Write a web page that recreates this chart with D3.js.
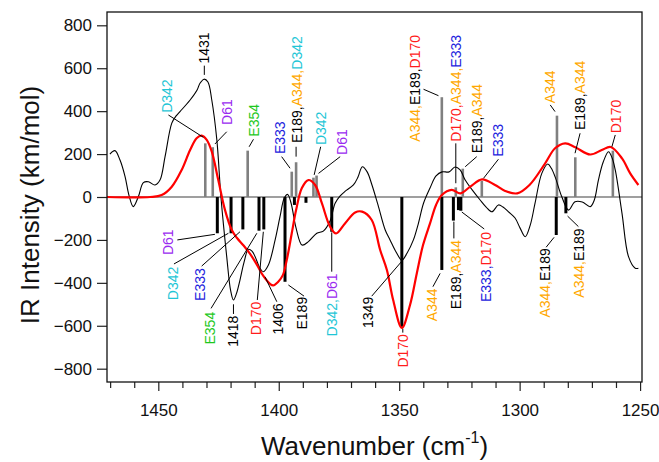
<!DOCTYPE html>
<html><head><meta charset="utf-8">
<script src="https://cdn.jsdelivr.net/npm/d3@7"></script>
<style>body{margin:0;background:#fff} svg text{font-family:"Liberation Sans",Arial,sans-serif}</style>
</head><body><svg id="c" width="659" height="462"></svg>
<script>
// ---------- data ----------
const yTickValues = [-800,-600,-400,-200,0,200,400,600,800];
const xMajorTicks = [1450,1400,1350,1300,1250];
const xMinorTicks = [1470,1460,1440,1430,1420,1410,1390,1380,1370,1360,1340,1330,1320,1310,1290,1280,1270,1260];

// experimental (black) spectrum
const expWavenumber = [1470.1,1468.0,1465.9,1463.8,1462.2,1460.4,1458.3,1456.2,1454.1,1451.4,1449.3,1447.2,1444.4,1442.6,1441.0,1436.8,1433.9,1432.7,1431.0,1429.4,1427.8,1425.7,1424.0,1421.6,1420.0,1418.8,1417.5,1416.1,1414.4,1412.6,1411.1,1409.8,1407.8,1406.4,1404.3,1401.5,1399.5,1397.7,1396.3,1394.9,1392.8,1390.3,1387.7,1384.2,1381.5,1378.7,1376.6,1374.5,1372.5,1369.0,1367.1,1365.3,1363.3,1361.3,1358.8,1355.8,1353.8,1351.3,1348.9,1346.7,1344.1,1342.1,1339.9,1337.2,1334.7,1332.2,1329.3,1326.8,1324.7,1322.6,1319.7,1316.4,1313.9,1311.5,1308.8,1306.9,1304.6,1301.9,1299.8,1297.7,1295.6,1293.6,1290.8,1288.3,1286.9,1285.3,1282.5,1279.7,1277.0,1274.0,1270.7,1269.0,1267.3,1265.3,1263.1,1261.6,1260.3,1257.5,1254.8,1252.0,1250.7];
const expIntensity = [200,216,172,95,9,-45,1,67,71,56,79,188,344,378,398,452,499,530,549,536,452,266,0,-278,-434,-480,-448,-387,-303,-244,-252,-278,-332,-348,-317,-200,-93,-5,12,-28,-145,-224,-208,-169,-159,-112,-29,5,26,56,93,141,117,56,-37,-154,-200,-256,-294,-261,-200,-126,-29,42,98,117,117,140,126,79,33,-14,-47,-69,-37,-47,-69,-98,-145,-185,-131,-29,110,154,135,95,1,-61,-22,-23,-45,-14,79,163,211,182,126,-76,-278,-332,-332];

// computed (red) broadened spectrum
const calcWavenumber = [1471.3,1453.4,1448.6,1444.4,1440.3,1436.8,1434.1,1432.0,1429.9,1427.8,1425.1,1422.3,1419.5,1417.4,1414.6,1411.9,1409.1,1406.4,1403.6,1402.3,1400.3,1398.3,1396.5,1394.6,1392.8,1390.4,1387.7,1384.9,1382.1,1378.7,1376.2,1372.5,1368.3,1365.4,1361.4,1357.9,1355.1,1352.5,1348.9,1345.5,1342.7,1340.1,1337.2,1334.7,1332.3,1328.2,1324.6,1320.5,1315.6,1310.2,1306.0,1301.0,1295.9,1289.4,1285.3,1281.1,1276.9,1270.7,1265.9,1262.2,1257.5,1254.1,1250.7];
const calcIntensity = [0,0,9,48,126,219,274,286,266,211,79,-61,-154,-190,-226,-265,-315,-368,-405,-412,-396,-364,-284,-169,-61,42,79,56,-29,-138,-170,-123,-72,-68,-107,-247,-340,-480,-610,-503,-356,-224,-123,-37,9,33,17,48,82,56,28,17,56,157,227,250,232,198,219,233,180,110,56];

// stick spectra
const posStickWavenumber = [1430.5,1427.4,1412.9,1394.6,1392.8,1385.6,1384.3,1332.3,1326.5,1323.6,1315.7,1284.5,1276.9,1261.3];
const posStickIntensity  = [250,232,216,118,162,90,100,465,45,132,75,379,185,216];
const negStickWavenumber = [1425.5,1419.8,1414.9,1408.2,1406.2,1397.4,1393.5,1388.7,1378.0,1348.9,1332.3,1327.5,1325.4,1324.4,1284.8,1280.8];
const negStickIntensity  = [-169,-169,-151,-157,-151,-395,-37,-27,-162,-605,-340,-110,-61,-64,-177,-76];

// annotations: text parts, anchor (wavenumber, intensity), leader line
const labelParts = [
 ["1431"],["D342"],["D61"],["E354"],["E333"],["E189","A344","D342"],["D342"],["D61"],
 ["A344","E189","D170"],["D170","A344","E333"],["E189","A344"],["E333"],["A344"],["E189","A344"],["D170"],
 ["D61"],["D342"],["E333"],["E354"],["1418"],["D170"],["1406"],["E189"],["D342","D61"],["1349"],["D170"],
 ["A344"],["E189","A344"],["E333","D170"],["A344","E189"],["A344","E189"]
];
const labelWavenumber = [1430.9,1446.5,1421.3,1410.3,1399.5,1392.3,1382.6,1373.8,1343.4,1326.5,1317.5,1308.8,1287.3,1274.9,1260.0,
 1445.8,1444.0,1432.7,1428.5,1418.8,1409.4,1400.2,1390.4,1378.0,1362.8,1348.5,1336.5,1326.3,1313.9,1289.4,1275.2];
const labelIntensity = [622,392,336,281,200,252,242,196,258,258,204,188,437,312,297,
 -151,-325,-332,-535,-553,-488,-496,-465,-356,-465,-639,-426,-200,-163,-239,-146];
const leaderLines = [
 [1430.9,569,1430.9,612],[1445.8,382,1431.3,278],[1421.6,304,1426.5,247],[1410.5,269,1412.3,234],[1398.8,188,1395.3,134],
 [1392.8,234,1392.8,188],[1382.6,234,1385.3,103],[1374.5,188,1383.5,110],[1339.9,502,1333.7,472],[1326.5,250,1326.5,64],
 [1317.8,188,1322.6,141],[1308.8,176,1315.0,87],[1287.3,429,1285.3,398],[1274.9,297,1277.0,204],[1260.3,289,1261.7,234],
 [1442.1,-200,1426.5,-174],[1443.5,-312,1420.9,-169],[1432.0,-322,1416.1,-162],[1428.1,-519,1409.1,-169],[1418.8,-500,1418.8,-545],
 [1408.9,-480,1406.4,-162],[1400.8,-488,1405.7,-372],[1389.5,-462,1396.0,-410],[1378.0,-165,1378.0,-348],[1361.4,-462,1348.5,-294],
 [1348.5,-614,1348.5,-632],[1336.0,-418,1333.0,-356],[1327.3,-115,1327.3,-193],[1314.7,-149,1324.0,-70],[1289.0,-234,1285.7,-188],
 [1275.6,-138,1280.1,-89]
];

const residueColor = {D342:"#1fc6d6",D61:"#9a2cf0",E354:"#1ec81e",E333:"#2323dd",E189:"#000000",A344:"#ffa800",D170:"#ff1c1c"};

// ---------- layout ----------
const FONT = "'Liberation Sans', Arial, sans-serif";
const svg = d3.select("#c");
const L = 107, R = 642, T = 12, B = 382;
const x = d3.scaleLinear().domain([1471.3, 1249.2]).range([L, R]);
const y = d3.scaleLinear().domain([-862, 862]).range([B, T]);

// zero line
svg.append("line").attr("x1", L).attr("x2", R).attr("y1", y(0)).attr("y2", y(0))
  .attr("stroke", "#7f7f7f").attr("stroke-width", 1.5);

// sticks
const posSticks = posStickWavenumber.map((w,i)=>({w, v:posStickIntensity[i]}));
const negSticks = negStickWavenumber.map((w,i)=>({w, v:negStickIntensity[i]}));
svg.append("g").selectAll("line").data(posSticks).join("line")
  .attr("x1", d=>x(d.w)).attr("x2", d=>x(d.w)).attr("y1", y(0)).attr("y2", d=>y(d.v))
  .attr("stroke", "#808080").attr("stroke-width", 2.6);
svg.append("g").selectAll("line").data(negSticks).join("line")
  .attr("x1", d=>x(d.w)).attr("x2", d=>x(d.w)).attr("y1", y(0)).attr("y2", d=>y(d.v))
  .attr("stroke", "#000").attr("stroke-width", 3);

// curves
const line = d3.line().x(d=>x(d.w)).y(d=>y(d.v)).curve(d3.curveCatmullRom.alpha(0.5));
const expData = expWavenumber.map((w,i)=>({w, v:expIntensity[i]}));
const calcData = calcWavenumber.map((w,i)=>({w, v:calcIntensity[i]}));
svg.append("path").datum(expData).attr("d", line).attr("fill","none").attr("stroke","#000").attr("stroke-width",1.1);
svg.append("path").datum(calcData).attr("d", line).attr("fill","none").attr("stroke","#ff0000").attr("stroke-width",2.2);

// leaders
svg.append("g").selectAll("line").data(leaderLines).join("line")
  .attr("x1", d=>x(d[0])).attr("y1", d=>y(d[1])).attr("x2", d=>x(d[2])).attr("y2", d=>y(d[3]))
  .attr("stroke","#000").attr("stroke-width",1);

// labels
labelParts.forEach((parts,i)=>{
  const up = labelIntensity[i] > 0;
  const t = svg.append("text")
    .attr("transform", `translate(${x(labelWavenumber[i])},${y(labelIntensity[i])}) rotate(-90)`)
    .attr("text-anchor", up ? "start" : "end")
    .attr("dominant-baseline", "central")
    .attr("font-size", 14).style("font-family", FONT);
  parts.forEach((p,j)=>{
    t.append("tspan").attr("fill", residueColor[p] || "#000").text(p + (j < parts.length-1 ? "," : ""));
  });
});

// axes
const gx = svg.append("g").attr("transform", `translate(0,${B})`)
  .call(d3.axisBottom(x).tickValues(xMajorTicks).tickSize(9).tickSizeOuter(0).tickPadding(13).tickFormat(d3.format("d")));
const gxm = svg.append("g").attr("transform", `translate(0,${B})`)
  .call(d3.axisBottom(x).tickValues(xMinorTicks).tickSize(6).tickSizeOuter(0).tickFormat(""));
const gy = svg.append("g").attr("transform", `translate(${L},0)`)
  .call(d3.axisLeft(y).tickValues(yTickValues).tickSize(10).tickSizeOuter(0).tickPadding(5));
[gx,gxm,gy].forEach(g=>{
  g.select(".domain").remove();
  g.selectAll("line").attr("stroke","#222").attr("stroke-width",1.2);
  g.selectAll("text").attr("font-size",17).attr("fill","#111").style("font-family", FONT);
});

// frame
svg.append("rect").attr("x", L).attr("y", T).attr("width", R-L).attr("height", B-T)
  .attr("fill","none").attr("stroke","#111").attr("stroke-width",1.3);

// titles
svg.append("text").attr("transform", `translate(39,${(T+B)/2 + 8}) rotate(-90)`)
  .attr("text-anchor","middle").attr("font-size",26).attr("fill","#111").style("font-family", FONT)
  .text("IR Intensity (km/mol)");
const xt = svg.append("text").attr("x", (L+R)/2).attr("y", 455)
  .attr("text-anchor","middle").attr("font-size",26).attr("fill","#111").style("font-family", FONT);
xt.append("tspan").text("Wavenumber (cm");
xt.append("tspan").attr("font-size",16).attr("dy",-12).text("-1");
xt.append("tspan").attr("dy",12).text(")");
</script></body></html>
